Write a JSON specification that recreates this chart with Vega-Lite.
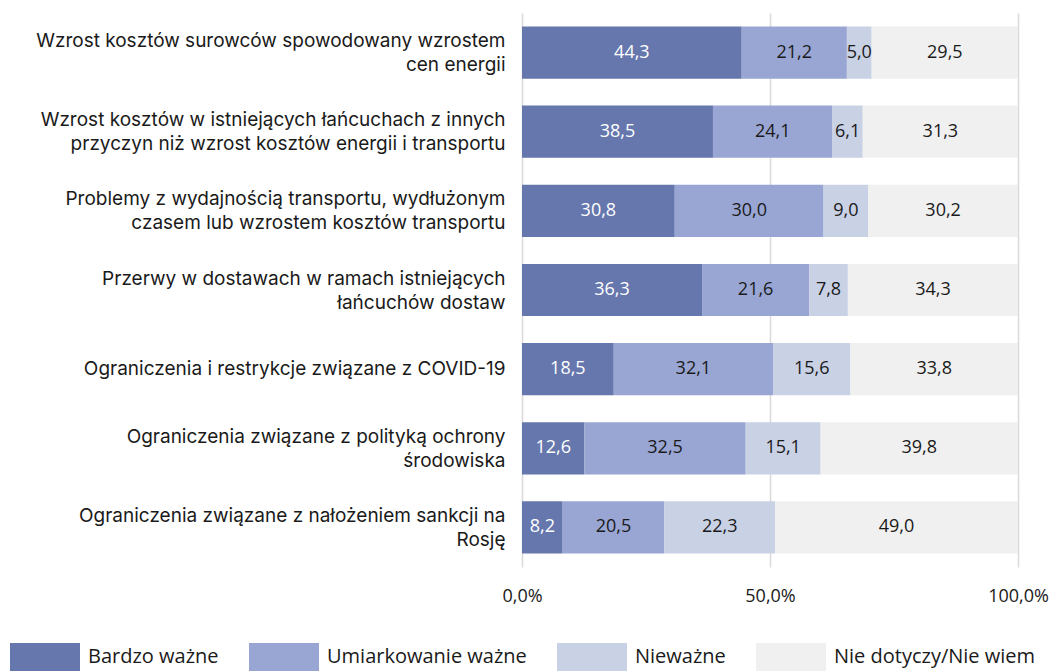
{
 "$schema": "https://vega.github.io/schema/vega-lite/v6.json",
 "autosize": {"type": "none"},
 "padding": {"left": 522, "top": 13, "right": 38, "bottom": 104},
 "width": 496,
 "height": 554,
 "config": {"view": {"stroke": null}, "font": "Open Sans", "background": "white",
  "locale": {"number": {"decimal": ",", "thousands": " ", "grouping": [3], "currency": ["", " zł"]}}},
 "data": {"values": [
  {"cat": "Wzrost kosztów surowców spowodowany wzrostem|cen energii", "series": "Bardzo ważne", "ord": 1, "v": 44.3},
  {"cat": "Wzrost kosztów surowców spowodowany wzrostem|cen energii", "series": "Umiarkowanie ważne", "ord": 2, "v": 21.2},
  {"cat": "Wzrost kosztów surowców spowodowany wzrostem|cen energii", "series": "Nieważne", "ord": 3, "v": 5.0},
  {"cat": "Wzrost kosztów surowców spowodowany wzrostem|cen energii", "series": "Nie dotyczy/Nie wiem", "ord": 4, "v": 29.5},
  {"cat": "Wzrost kosztów w istniejących łańcuchach z innych|przyczyn niż wzrost kosztów energii i transportu", "series": "Bardzo ważne", "ord": 1, "v": 38.5},
  {"cat": "Wzrost kosztów w istniejących łańcuchach z innych|przyczyn niż wzrost kosztów energii i transportu", "series": "Umiarkowanie ważne", "ord": 2, "v": 24.1},
  {"cat": "Wzrost kosztów w istniejących łańcuchach z innych|przyczyn niż wzrost kosztów energii i transportu", "series": "Nieważne", "ord": 3, "v": 6.1},
  {"cat": "Wzrost kosztów w istniejących łańcuchach z innych|przyczyn niż wzrost kosztów energii i transportu", "series": "Nie dotyczy/Nie wiem", "ord": 4, "v": 31.3},
  {"cat": "Problemy z wydajnością transportu, wydłużonym|czasem lub wzrostem kosztów transportu", "series": "Bardzo ważne", "ord": 1, "v": 30.8},
  {"cat": "Problemy z wydajnością transportu, wydłużonym|czasem lub wzrostem kosztów transportu", "series": "Umiarkowanie ważne", "ord": 2, "v": 30.0},
  {"cat": "Problemy z wydajnością transportu, wydłużonym|czasem lub wzrostem kosztów transportu", "series": "Nieważne", "ord": 3, "v": 9.0},
  {"cat": "Problemy z wydajnością transportu, wydłużonym|czasem lub wzrostem kosztów transportu", "series": "Nie dotyczy/Nie wiem", "ord": 4, "v": 30.2},
  {"cat": "Przerwy w dostawach w ramach istniejących|łańcuchów dostaw", "series": "Bardzo ważne", "ord": 1, "v": 36.3},
  {"cat": "Przerwy w dostawach w ramach istniejących|łańcuchów dostaw", "series": "Umiarkowanie ważne", "ord": 2, "v": 21.6},
  {"cat": "Przerwy w dostawach w ramach istniejących|łańcuchów dostaw", "series": "Nieważne", "ord": 3, "v": 7.8},
  {"cat": "Przerwy w dostawach w ramach istniejących|łańcuchów dostaw", "series": "Nie dotyczy/Nie wiem", "ord": 4, "v": 34.3},
  {"cat": "Ograniczenia i restrykcje związane z COVID-19", "series": "Bardzo ważne", "ord": 1, "v": 18.5},
  {"cat": "Ograniczenia i restrykcje związane z COVID-19", "series": "Umiarkowanie ważne", "ord": 2, "v": 32.1},
  {"cat": "Ograniczenia i restrykcje związane z COVID-19", "series": "Nieważne", "ord": 3, "v": 15.6},
  {"cat": "Ograniczenia i restrykcje związane z COVID-19", "series": "Nie dotyczy/Nie wiem", "ord": 4, "v": 33.8},
  {"cat": "Ograniczenia związane z polityką ochrony|środowiska", "series": "Bardzo ważne", "ord": 1, "v": 12.6},
  {"cat": "Ograniczenia związane z polityką ochrony|środowiska", "series": "Umiarkowanie ważne", "ord": 2, "v": 32.5},
  {"cat": "Ograniczenia związane z polityką ochrony|środowiska", "series": "Nieważne", "ord": 3, "v": 15.1},
  {"cat": "Ograniczenia związane z polityką ochrony|środowiska", "series": "Nie dotyczy/Nie wiem", "ord": 4, "v": 39.8},
  {"cat": "Ograniczenia związane z nałożeniem sankcji na|Rosję", "series": "Bardzo ważne", "ord": 1, "v": 8.2},
  {"cat": "Ograniczenia związane z nałożeniem sankcji na|Rosję", "series": "Umiarkowanie ważne", "ord": 2, "v": 20.5},
  {"cat": "Ograniczenia związane z nałożeniem sankcji na|Rosję", "series": "Nieważne", "ord": 3, "v": 22.3},
  {"cat": "Ograniczenia związane z nałożeniem sankcji na|Rosję", "series": "Nie dotyczy/Nie wiem", "ord": 4, "v": 49.0}
 ]},
 "transform": [
  {"stack": "v", "groupby": ["cat"], "sort": [{"field": "ord"}], "as": ["x0", "x1"]},
  {"calculate": "(datum.x0 + datum.x1) / 2", "as": "xm"}
 ],
 "encoding": {
  "y": {"field": "cat", "type": "nominal", "sort": null,
   "scale": {"paddingInner": 0.34, "paddingOuter": 0.17},
   "axis": {"title": null, "domain": false, "ticks": false, "labelPadding": 17, "labelFont": "Inter", "labelFontSize": 19, "labelColor": "#1a1a1a", "labelExpr": "split(datum.label, '|')", "labelLineHeight": 24, "labelLimit": 520,
    "labelOffset": {"condition": {"test": "indexof(datum.value, '|') >= 0", "value": -11.5}, "value": 0}}
  }
 },
 "layer": [
  {
   "mark": {"type": "bar"},
   "encoding": {
    "x": {"field": "x0", "type": "quantitative", "scale": {"domain": [0, 100], "nice": false},
     "axis": {"title": null, "grid": true, "gridColor": "#d9d9d9", "gridWidth": 1.5, "domain": false, "ticks": false, "values": [0, 50, 100], "labelPadding": 20, "labelFontSize": 18, "labelColor": "#1a1a1a", "labelFlush": false, "labelExpr": "replace(format(datum.value, '.1f'), '.', ',') + '%'"}},
    "x2": {"field": "x1"},
    "color": {"field": "series", "type": "nominal",
     "scale": {"domain": ["Bardzo ważne", "Umiarkowanie ważne", "Nieważne", "Nie dotyczy/Nie wiem"], "range": ["#6677ad", "#99a6d4", "#c9d1e5", "#f0f0f0"]},
     "legend": {"title": null, "orient": "none", "legendX": -491, "legendY": 630, "direction": "horizontal", "columns": 4, "columnPadding": 30, "padding": 0, "symbolType": "M-2.5,-1H2.5V1H-2.5Z", "symbolSize": 784, "symbolStrokeWidth": 0, "symbolOpacity": 1, "labelOffset": 29, "labelFontSize": 20, "labelLimit": 400, "labelColor": "#1a1a1a"}
    }
   }
  },
  {
   "mark": {"type": "text", "fontSize": 18},
   "encoding": {
    "x": {"field": "xm", "type": "quantitative"},
    "text": {"field": "v", "type": "quantitative", "format": ".1f"},
    "color": {"condition": {"test": "datum.series === 'Bardzo ważne'", "value": "white"}, "value": "#1a1a1a"}
   }
  }
 ]
}
